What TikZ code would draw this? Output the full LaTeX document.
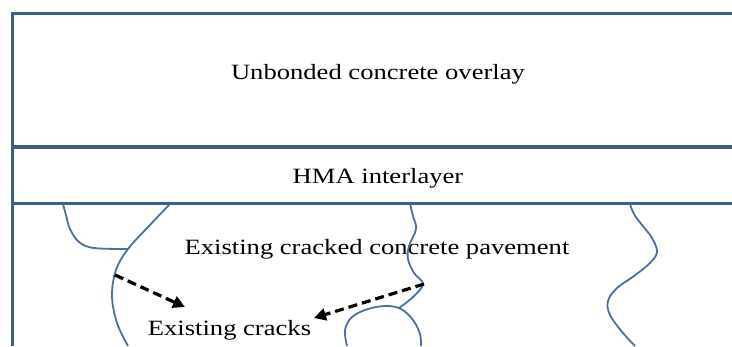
\documentclass[tikz,border=0pt]{standalone}
\usepackage{fontspec}
\newfontfamily\layerfont[FakeStretch=1.22]{Liberation Serif}
\definecolor{slabblue}{HTML}{3B5E8C}
\definecolor{crackblue}{HTML}{4A6FA3}
\usetikzlibrary{arrows.meta}

\tikzset{
   layerline/.style={slabblue, line width=3.6pt},
   crackline/.style={crackblue, line width=1.8pt, smooth, tension=0.6},
   crackarrow/.style={black, line width=3.2pt, dash pattern=on 9pt off 5pt,
      -{Triangle[length=12pt,width=12pt]}},
   layertext/.style={font=\layerfont\fontsize{21.8}{25}\selectfont, anchor=base, inner sep=0pt}
}

\begin{document}
\begin{tikzpicture}[x=1pt, y=-1pt]
            \useasboundingbox (0,0) rectangle (732,346);
            % Layer boundaries (open on the right)
            \draw[layerline] (732,13.3) -- (12.5,13.3) -- (12.5,346);
            \draw[layerline] (12.5,147) -- (732,147);
            \draw[layerline] (12.5,203.3) -- (732,203.3);
            % Layer labels
            \node[layertext] (overlay) at (378,79.3) {Unbonded concrete overlay};
            \node[layertext] (interlayer) at (378,183.3) {HMA interlayer};
            \node[layertext] (pavement) at (377,254.3) {Existing cracked concrete pavement};
            \node[layertext] (cracks) at (229.5,335) {Existing cracks};
            % Crack on the left, branch joining the main one
            \draw[crackline] plot coordinates {(63,204) (66,215) (70,229) (79,242) (94,248) (128,249)};
            \draw[crackline] plot coordinates {(170,204) (149,226) (128,249) (116,270) (112,296) (117,323) (128,346)};
            % Wavy crack in the middle, ending on a loop
            \draw[crackline] plot coordinates {(410,204) (413,216) (416,229) (409,246) (408,259) (414,273) (423,284) (413,297) (399,308)};
            \draw[crackline] plot coordinates {(347,346) (345,330) (352,317) (368,309) (386,306) (401,309) (413,320) (420,334) (421,346)};
            % Crack on the right
            \draw[crackline] plot coordinates {(630,204) (634,214) (642,225) (652,238) (657,252) (650,263) (634,276) (617,288) (608,301) (610,315) (623,333) (635,346)};
            % Pointers to the cracks
            \coordinate (leftcrack) at (115,275);
            \coordinate (midcrack) at (424,284);
            \coordinate (lefttip) at (185,307);
            \coordinate (midtip) at (314,318);
            \draw[crackarrow] (leftcrack) -- (lefttip);
            \draw[crackarrow] (midcrack) -- (midtip);
\end{tikzpicture}
\end{document}
